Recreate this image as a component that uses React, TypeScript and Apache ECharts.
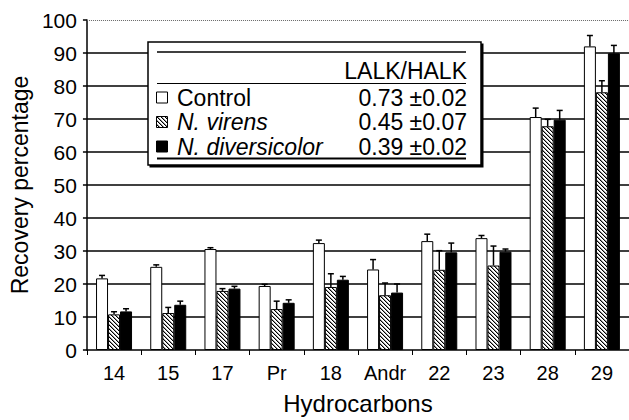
import React, { useEffect, useRef } from "react";
import * as echarts from "echarts";

const categories = ["14", "15", "17", "Pr", "18", "Andr", "22", "23", "28", "29"];
const controlValues = [21.7, 25.2, 30.6, 19.4, 32.4, 24.4, 33.0, 33.9, 70.6, 92.0];
const controlErrors = [0.9, 0.6, 0.4, 0.5, 0.9, 3.0, 2.1, 0.8, 2.7, 3.3];
const virensValues = [10.8, 11.2, 17.9, 12.4, 19.1, 16.6, 24.3, 25.6, 67.8, 78.1];
const virensErrors = [0.8, 1.7, 0.7, 2.4, 4.0, 3.7, 5.8, 5.9, 2.1, 3.5];
const diversValues = [11.7, 13.7, 18.6, 14.3, 21.3, 17.4, 29.6, 29.8, 69.8, 89.9];
const diversErrors = [0.8, 1.1, 0.7, 0.9, 1.0, 2.6, 2.8, 0.8, 2.8, 2.4];

const seriesNames = ["Control", "N. virens", "N. diversicolor"];
const ratioHeader = "LALK/HALK";
const ratioTexts = ["0.73 ±0.02", "0.45 ±0.07", "0.39 ±0.02"];

const FONT = '"Liberation Sans", Arial, Helvetica, sans-serif';
const BAR_W = 12;

function makeHatch(): HTMLCanvasElement {
  const c = document.createElement("canvas");
  c.width = 4;
  c.height = 4;
  const ctx = c.getContext("2d")!;
  ctx.fillStyle = "#fff";
  ctx.fillRect(0, 0, 4, 4);
  for (let i = 0; i < 4; i++) {
    ctx.fillStyle = "#000";
    ctx.fillRect(i, i, 1, 1);
    ctx.fillStyle = "#999";
    ctx.fillRect((i + 1) % 4, i, 1, 1);
  }
  return c;
}

export default function App() {
  const ref = useRef<HTMLDivElement>(null);

  useEffect(() => {
    document.body.style.margin = "0";
    if (!ref.current) return;
    const chart = echarts.init(ref.current, null, { renderer: "svg" });
    const hatch = makeHatch();
    const hatchFill: any = { image: hatch, repeat: "repeat", imageWidth: 4, imageHeight: 4 };

    const errData: any[] = [];
    const groups = [
      [controlValues, controlErrors],
      [virensValues, virensErrors],
      [diversValues, diversErrors],
    ];
    groups.forEach(([vals, errs], k) => {
      vals.forEach((v, i) => errData.push([i, v, errs[i], k]));
    });

    const fills = ["#fff", hatchFill, "#000"];
    const valueArrays = [controlValues, virensValues, diversValues];

    const rowY = [97.5, 122, 146.5];
    const LF = 23;
    const graphics: any[] = [
      { type: "rect", z: 100, shape: { x: 149.5, y: 43.5, width: 334, height: 124 }, style: { fill: "#000" } },
      { type: "rect", z: 101, shape: { x: 148, y: 42, width: 333, height: 123 }, style: { fill: "#fff", stroke: "#000", lineWidth: 1.5 } },
      { type: "line", z: 102, shape: { x1: 157, y1: 52, x2: 466, y2: 52 }, style: { stroke: "#000", lineWidth: 1.5 } },
      { type: "line", z: 102, shape: { x1: 157, y1: 83.5, x2: 466, y2: 83.5 }, style: { stroke: "#000", lineWidth: 1 } },
      { type: "line", z: 102, shape: { x1: 157, y1: 158.5, x2: 466, y2: 158.5 }, style: { stroke: "#000", lineWidth: 2 } },
      {
        type: "text", z: 102, x: 467, y: 71,
        style: { text: ratioHeader, fontSize: LF, fontFamily: FONT, fill: "#000", align: "right", verticalAlign: "middle" },
      },
    ];
    seriesNames.forEach((name, i) => {
      graphics.push({
        type: "rect", z: 102,
        shape: { x: 156.5, y: rowY[i] - 5.5, width: 11, height: 11 },
        style: { fill: fills[i], stroke: "#000", lineWidth: 1 },
      });
      graphics.push({
        type: "text", z: 102, x: 177, y: rowY[i],
        style: {
          text: name, fontSize: LF, fontFamily: FONT, fontStyle: i === 0 ? "normal" : "italic",
          fill: "#000", align: "left", verticalAlign: "middle",
        },
      });
      graphics.push({
        type: "text", z: 102, x: 467, y: rowY[i],
        style: { text: ratioTexts[i], fontSize: LF, fontFamily: FONT, fill: "#000", align: "right", verticalAlign: "middle" },
      });
    });

    const barSeries: any[] = seriesNames.map((name, k) => ({
      name,
      type: "bar",
      data: valueArrays[k],
      barWidth: BAR_W,
      barGap: "0%",
      itemStyle: { color: fills[k], borderColor: "#000", borderWidth: 1 },
      z: 3,
      ...(k === 0
        ? {
            markLine: {
              silent: true,
              symbol: "none",
              label: { show: false },
              lineStyle: { type: "dotted", color: "#666", width: 1 },
              data: [{ yAxis: 100 }],
            },
          }
        : {}),
    }));

    chart.setOption({
      animation: false,
      textStyle: { fontFamily: FONT },
      grid: { left: 77, top: 20, width: 554, height: 334 },
      xAxis: {
        type: "category",
        data: categories,
        name: "Hydrocarbons",
        nameLocation: "middle",
        nameGap: 41,
        nameTextStyle: { fontSize: 24, color: "#000", fontFamily: FONT },
        axisLine: { lineStyle: { color: "#000", width: 1.5 } },
        axisTick: { show: true, interval: 0, length: 5, lineStyle: { color: "#000", width: 1 } },
        axisLabel: { interval: 0, fontSize: 20, color: "#000", margin: 13, fontFamily: FONT },
      },
      yAxis: {
        type: "value",
        min: 0,
        max: 100,
        interval: 10,
        name: "Recovery percentage",
        nameLocation: "middle",
        nameGap: 54,
        nameTextStyle: { fontSize: 23, color: "#000", fontFamily: FONT },
        axisLine: { show: true, lineStyle: { color: "#000", width: 1.5 } },
        axisTick: { show: true, length: 4, lineStyle: { color: "#000", width: 1.5 } },
        axisLabel: { fontSize: 21, color: "#000", margin: 10, fontFamily: FONT },
        splitLine: {
          show: true,
          showMinLine: false,
          showMaxLine: false,
          lineStyle: { color: "#000", width: 1.5 },
        },
      },
      series: [
        ...barSeries,
        {
          type: "custom",
          name: "errors",
          data: errData,
          encode: { x: 0, y: 1 },
          z: 5,
          renderItem: (params: any, api: any) => {
            const ci = api.value(0);
            const v = api.value(1);
            const e = api.value(2);
            const k = api.value(3);
            const top = api.coord([ci, v + e]);
            const base = api.coord([ci, v]);
            const x = top[0] + (k - 1) * BAR_W;
            return {
              type: "group",
              children: [
                { type: "line", shape: { x1: x, y1: base[1], x2: x, y2: top[1] }, style: { stroke: "#000", lineWidth: 1.5 } },
                { type: "line", shape: { x1: x - 3, y1: top[1], x2: x + 3, y2: top[1] }, style: { stroke: "#000", lineWidth: 1.5 } },
              ],
            };
          },
        },
      ],
      graphic: graphics,
    });

    return () => chart.dispose();
  }, []);

  return <div ref={ref} style={{ width: 629, height: 420, position: "absolute", left: 0, top: 0 }} />;
}
